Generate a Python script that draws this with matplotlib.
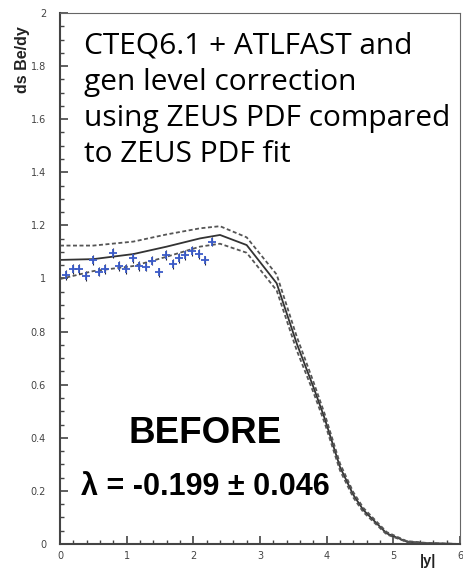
import matplotlib
matplotlib.use("Agg")
import matplotlib.pyplot as plt
from matplotlib.ticker import MultipleLocator

# ZEUS PDF fit: central curve and error band
fit_y = [0, 0.5, 1.1, 1.6, 2.1, 2.4, 2.8, 3.25, 3.55, 3.8, 3.97, 4.2, 4.4, 4.55, 4.9, 5.2, 5.5, 6.0]
fit_central = [1.070, 1.073, 1.092, 1.120, 1.151, 1.164, 1.126, 0.982, 0.756, 0.592, 0.473, 0.29, 0.185, 0.128, 0.040, 0.009, 0.003, 0.0]
fit_upper = [1.124, 1.124, 1.139, 1.166, 1.189, 1.197, 1.155, 1.015, 0.782, 0.612, 0.490, 0.303, 0.195, 0.136, 0.045, 0.011, 0.004, 0.0]
fit_lower = [0.998, 1.028, 1.047, 1.082, 1.120, 1.131, 1.097, 0.955, 0.730, 0.572, 0.456, 0.277, 0.175, 0.120, 0.036, 0.008, 0.002, 0.0]

# CTEQ6.1 + ATLFAST pseudo-data
data_y = [0.09, 0.19, 0.28, 0.39, 0.49, 0.59, 0.68, 0.79, 0.89, 0.99, 1.09, 1.19,
          1.29, 1.38, 1.49, 1.59, 1.69, 1.78, 1.88, 1.98, 2.08, 2.18, 2.28]
data_val = [1.013, 1.036, 1.036, 1.010, 1.070, 1.026, 1.036, 1.097, 1.048, 1.035, 1.078, 1.048,
            1.045, 1.067, 1.023, 1.088, 1.055, 1.078, 1.088, 1.103, 1.092, 1.068, 1.139]
data_err = [0.018] * len(data_val)

fig = plt.figure(figsize=(4.63, 5.71), dpi=100)
ax = fig.add_axes([60 / 463, 27 / 571, 400 / 463, 531 / 571])

ax.plot(fit_y, fit_central, color="#333333", lw=1.3)
ax.plot(fit_y, fit_upper, color="#555555", lw=1.3, ls=(0, (2.2, 1.4)))
ax.plot(fit_y, fit_lower, color="#555555", lw=1.3, ls=(0, (2.2, 1.4)))

ax.errorbar(data_y, data_val, yerr=data_err, fmt="+", color="#3b5bc8",
            ecolor="#222233", elinewidth=0.8, markersize=6, mew=1.3, capsize=0)

ax.set_xlim(0, 6)
ax.set_ylim(0, 2)
ax.xaxis.set_major_locator(MultipleLocator(1))
ax.xaxis.set_minor_locator(MultipleLocator(0.2))
ax.yaxis.set_major_locator(MultipleLocator(0.2))
ax.yaxis.set_minor_locator(MultipleLocator(0.05))
ax.yaxis.set_major_formatter(plt.FuncFormatter(lambda v, p: f"{v:g}"))
ax.tick_params(which="both", direction="in", colors="#444444", labelsize=7)
ax.tick_params(which="major", length=6, width=1.2)
ax.tick_params(which="minor", length=3, width=1)
ax.tick_params(axis="y", pad=10)
ax.tick_params(axis="x", pad=5)
for side in ["left", "bottom"]:
    ax.spines[side].set_linewidth(1.5)
    ax.spines[side].set_color("#444444")
for side in ["top", "right"]:
    ax.spines[side].set_linewidth(0.8)
    ax.spines[side].set_color("#666666")

ax.text(0.36, 1.93, "CTEQ6.1 + ATLFAST and\ngen level correction\nusing ZEUS PDF compared\nto ZEUS PDF fit",
        fontsize=21.5, family="Open Sans", va="top", ha="left", linespacing=1.33, color="black")

ax.text(2.18, 0.38, "BEFORE", fontsize=26.5, family="Liberation Sans", fontweight="bold",
        ha="center", va="baseline")
ax.text(2.18, 0.185, "λ = -0.199 ± 0.046", fontsize=22, family="Liberation Sans",
        fontweight="bold", ha="center", va="baseline")

fig.text(22 / 463, 1 - 60 / 571, "ds Be/dy", rotation=90, fontsize=11.5,
         family="Liberation Sans", fontweight="bold", ha="center", va="center", color="#222222")
fig.text(428 / 463, 1 - 561 / 571, "|y|", fontsize=10.5, family="Liberation Sans",
         fontweight="bold", ha="center", va="center", color="#222222")

fig.savefig("out.png", dpi=100)
